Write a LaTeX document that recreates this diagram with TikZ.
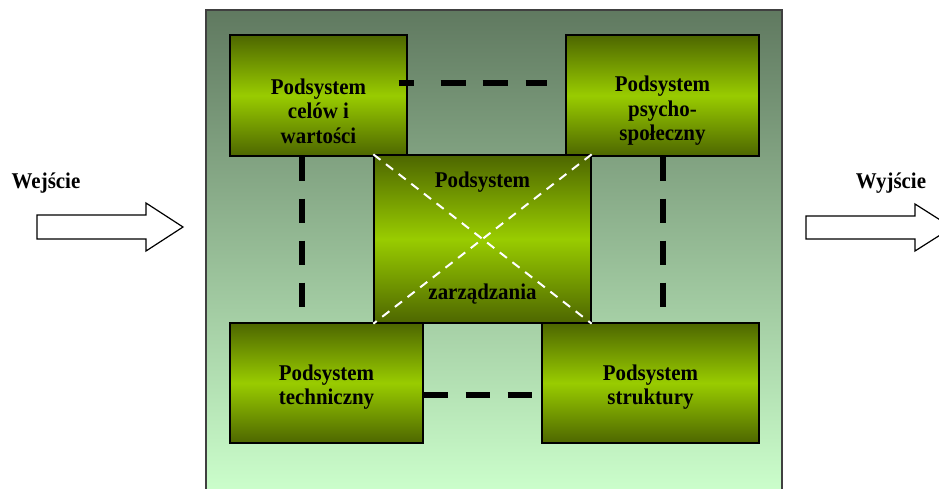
\documentclass[tikz,border=0pt]{standalone}
\usepackage{fontspec}
\setmainfont[FakeStretch=0.93]{Liberation Serif}
\definecolor{boxdark}{RGB}{77,102,0}
\definecolor{boxlight}{RGB}{153,204,0}
\definecolor{frametop}{RGB}{96,121,96}
\definecolor{framebottom}{RGB}{204,255,204}
\begin{document}
\begin{tikzpicture}[x=1pt,y=-1pt,
  subsystem/.style={rectangle, draw=black, line width=1.3pt, inner sep=0pt,
    shading=axis, top color=boxdark, bottom color=boxdark, middle color=boxlight},
  caption/.style={inner sep=0pt, align=center, text=black,
    font=\bfseries\fontsize{22.5}{24.5}\selectfont},
  link/.style={draw=black, line width=6pt},
  cross/.style={draw=white, line width=2pt, dash pattern=on 9pt off 7pt},
  blockarrow/.style={draw=black, fill=white, line width=1.2pt, line join=miter}]

\useasboundingbox (0,0) rectangle (939,488);
\clip (0,0) rectangle (939,488);

% system frame
\node[rectangle, draw=black!75, line width=1.2pt, inner sep=0pt,
  shading=axis, top color=frametop, bottom color=framebottom,
  minimum width=576pt, minimum height=484pt] (frame) at (494,252) {};

% upper subsystems
\node[subsystem, minimum width=177pt, minimum height=121pt] (celow) at (318.5,95.5) {};
\node[subsystem, minimum width=193pt, minimum height=121pt] (psycho) at (662.5,95.5) {};

% upper link
\draw[link, dash pattern=on 15pt off 27pt on 25pt off 17pt on 25pt off 18pt on 23pt off 10pt]
  ([xshift=-9pt,yshift=12.5pt]celow.east) -- ([xshift=-18pt,yshift=12.5pt]psycho.west);

% vertical links
\draw[link, dash pattern=on 24pt off 18pt] ([xshift=-16.5pt]celow.south) -- ++(0,150);
\draw[link, dash pattern=on 24pt off 18pt] (psycho.south) -- ++(0,150);

% management subsystem
\node[subsystem, minimum width=217pt, minimum height=168pt] (zarz) at (482.5,239) {};

% lower subsystems
\node[subsystem, minimum width=193pt, minimum height=120pt] (tech) at (326.5,383) {};
\node[subsystem, minimum width=217pt, minimum height=120pt] (strukt) at (650.5,383) {};

% lower link
\draw[link, dash pattern=on 24pt off 18pt] ([yshift=-12pt]tech.east) -- ++(108,0);

% diagonals of the management subsystem
\draw[cross] (zarz.north west) -- (zarz.south east);
\draw[cross] (zarz.north east) -- (zarz.south west);

% captions
\node[caption] (celowtxt) at (318.5,111) {Podsystem\\celów i\\wartości};
\node[caption] (psychotxt) at (662.5,111) {Podsystem\\psycho-\\społeczny};
\node[caption] (zarztop) at (482.5,182) {Podsystem};
\node[caption] (zarzbot) at (482.5,294) {zarządzania};
\node[caption] (techtxt) at (326.5,387) {Podsystem\\techniczny};
\node[caption] (strukttxt) at (650.5,387) {Podsystem\\struktury};

% input and output
\node[caption] (wej) at (46,183) {Wejście};
\node[caption] (wyj) at (891,183) {Wyjście};
\draw[blockarrow] (37,215) -- (146,215) -- (146,203) -- (183,227) -- (146,251)
  -- (146,239) -- (37,239) -- cycle;
\draw[blockarrow] (806,216) -- (915,216) -- (915,204) -- (952,227.5) -- (915,251)
  -- (915,239) -- (806,239) -- cycle;
\end{tikzpicture}
\end{document}
